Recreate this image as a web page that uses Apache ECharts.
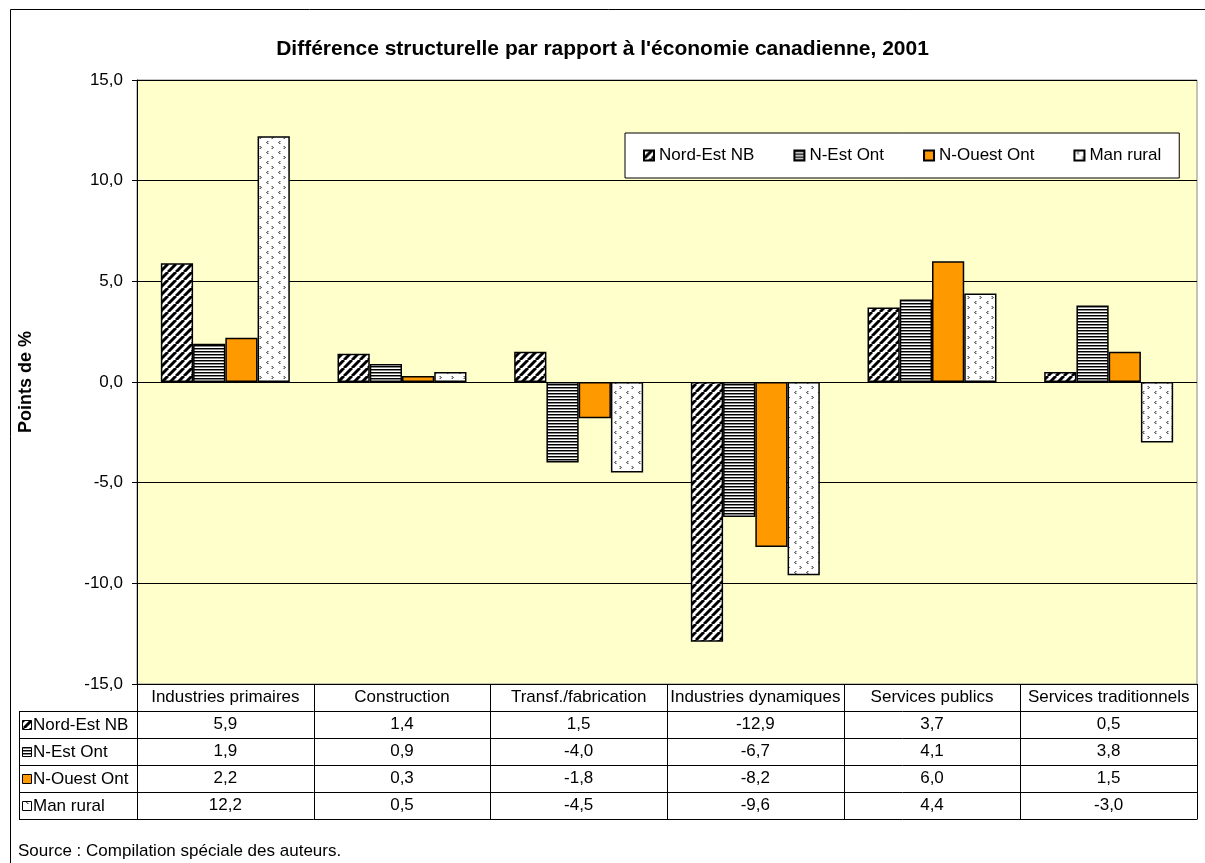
<!DOCTYPE html>
<html><head><meta charset="utf-8">
<script src="https://cdn.jsdelivr.net/npm/echarts@6/dist/echarts.min.js"></script>
<style>html,body{margin:0;padding:0;background:#fff}#c{width:1205px;height:863px}</style>
</head><body><div id="c"></div>
<script>
// ---- data ----
const categories = ['Industries primaires', 'Construction', 'Transf./fabrication', 'Industries dynamiques', 'Services publics', 'Services traditionnels'];
const seriesNames = ['Nord-Est NB', 'N-Est Ont', 'N-Ouest Ont', 'Man rural'];
const nordEstNB = [5.9, 1.4, 1.5, -12.9, 3.7, 0.5];
const nEstOnt = [1.9, 0.9, -4.0, -6.7, 4.1, 3.8];
const nOuestOnt = [2.2, 0.3, -1.8, -8.2, 6.0, 1.5];
const manRural = [12.2, 0.5, -4.5, -9.6, 4.4, -3.0];
const yMin = -15, yMax = 15, yStep = 5;
const titleText = "Différence structurelle par rapport à l'économie canadienne, 2001";
const yName = 'Points de %';
const sourceText = 'Source : Compilation spéciale des auteurs.';

const allValues = [nordEstNB, nEstOnt, nOuestOnt, manRural];
const FONT = '"Liberation Sans", Arial, sans-serif';
const fmt = v => v.toFixed(1).replace('.', ',');

// ---- patterns ----
function tile(w, h, draw) {
  const c = document.createElement('canvas'); c.width = w; c.height = h;
  const g = c.getContext('2d'); g.fillStyle = '#fff'; g.fillRect(0, 0, w, h); draw(g); return c;
}
const diagTile = tile(8, 8, g => {
  g.strokeStyle = '#000'; g.lineWidth = 3;
  for (let x0 = -8; x0 <= 8; x0 += 8) { g.beginPath(); g.moveTo(x0, 8); g.lineTo(x0 + 8, 0); g.stroke(); }
});
const horizTile = tile(4, 3, g => {
  g.fillStyle = '#000'; g.fillRect(0, 0, 4, 1);
  g.fillStyle = '#888'; g.fillRect(0, 1, 4, 1);
});
const dotTile = tile(12, 10, g => {
  g.fillStyle = '#666';
  [[3,1],[2,2],[3,3],[8,6],[9,7],[8,8]].forEach(p => g.fillRect(p[0], p[1], 1, 1));
  g.fillStyle = '#aaa';
  [[4,1],[3,2],[4,3],[7,6],[8,7],[7,8]].forEach(p => g.fillRect(p[0], p[1], 1, 1));
});
const fills = [
  { image: diagTile, repeat: 'repeat' },
  { image: horizTile, repeat: 'repeat' },
  '#FF9900',
  { image: dotTile, repeat: 'repeat' }
];

const chart = echarts.init(document.getElementById('c'), null, { renderer: 'canvas' });
const option = {
  backgroundColor: '#fff',
  animation: false,
  title: {
    text: titleText, left: 'center', top: 34,
    textStyle: { fontFamily: FONT, fontSize: 21, fontWeight: 'bold', color: '#000' }
  },
  legend: {
    data: seriesNames, left: 625, top: 133, icon: 'rect',
    padding: [14, 18, 14, 18], itemGap: 39, itemWidth: 10, itemHeight: 10,
    backgroundColor: '#fff', borderColor: '#000', borderWidth: 1,
    textStyle: { fontFamily: FONT, fontSize: 17, color: '#000' }
  },
  grid: {
    left: 137, right: 8, top: 80, bottom: 179,
    show: true, backgroundColor: '#FFFFCC', borderColor: '#888', borderWidth: 1
  },
  xAxis: {
    type: 'category', data: categories,
    axisLine: { onZero: false, lineStyle: { color: '#000', width: 1 } },
    axisTick: { show: false },
    axisLabel: {
      interval: 0, margin: 0, hideOverlap: false,
      fontFamily: FONT, fontSize: 17, color: '#000', lineHeight: 27,
      formatter: (val, idx) => [val].concat(allValues.map(a => fmt(a[idx]))).join('\n')
    }
  },
  yAxis: {
    type: 'value', min: yMin, max: yMax, interval: yStep,
    name: yName, nameLocation: 'middle', nameRotate: 90, nameGap: 102,
    nameTextStyle: { fontFamily: FONT, fontSize: 18, fontWeight: 'bold', color: '#000' },
    axisLine: { show: true, lineStyle: { color: '#000', width: 1 } },
    axisTick: { show: true, length: 5, lineStyle: { color: '#000' } },
    axisLabel: { margin: 14, fontFamily: FONT, fontSize: 17, color: '#000', formatter: v => fmt(v) },
    splitLine: { show: true, lineStyle: { color: '#000', width: 1 } }
  },
  series: seriesNames.map((n, i) => ({
    name: n, type: 'bar', data: allValues[i],
    barGap: '0%', barCategoryGap: '27%',
    itemStyle: { color: fills[i], borderColor: '#000', borderWidth: 1.5 }
  }))
};
chart.setOption(option);

// ---- data table + frame ----
function buildGraphics() {
  const c0 = chart.convertToPixel({ xAxisIndex: 0 }, 0);
  const c1 = chart.convertToPixel({ xAxisIndex: 0 }, 1);
  const band = c1 - c0;
  const left = c0 - band / 2;
  const right = left + band * categories.length;
  const top = chart.convertToPixel({ yAxisIndex: 0 }, yMin);
  const rowH = 27;
  const headerBottom = top + rowH;
  const tableBottom = headerBottom + rowH * seriesNames.length;
  const labelLeft = 19;
  const els = [];
  const ln = (x1, y1, x2, y2) => els.push({ type: 'line', silent: true, z: 10,
    shape: { x1, y1, x2, y2 }, style: { stroke: '#000', lineWidth: 1 } });
  for (let r = 0; r <= seriesNames.length; r++) {
    const y = Math.round(headerBottom + r * rowH) + 0.5;
    ln(labelLeft, y, right, y);
  }
  for (let k = 0; k <= categories.length; k++) {
    const x = Math.round(left + k * band) + 0.5;
    ln(x, top, x, Math.round(tableBottom) + 0.5);
  }
  ln(labelLeft + 0.5, Math.round(headerBottom) + 0.5, labelLeft + 0.5, Math.round(tableBottom) + 0.5);
  seriesNames.forEach((n, i) => {
    const cy = headerBottom + rowH * i + rowH / 2;
    els.push({ type: 'rect', silent: true, z: 11,
      shape: { x: 22.5, y: Math.round(cy - 4) - 0.5, width: 9, height: 9 },
      style: { fill: fills[i], stroke: '#000', lineWidth: 1 } });
    els.push({ type: 'text', silent: true, z: 11,
      style: { text: n, x: 33, y: cy + 1, font: '17px ' + FONT, fill: '#000',
        textAlign: 'left', textVerticalAlign: 'middle', align: 'left', verticalAlign: 'middle' } });
  });
  els.push({ type: 'text', silent: true, z: 11,
    style: { text: sourceText, x: 18, y: 851, font: '17px ' + FONT, fill: '#000',
      textAlign: 'left', textVerticalAlign: 'middle', align: 'left', verticalAlign: 'middle' } });
  els.push({ type: 'rect', silent: true, z: -1,
    shape: { x: 10.5, y: 9.5, width: 1400, height: 1000 },
    style: { fill: null, stroke: '#000', lineWidth: 1 } });
  chart.setOption({ graphic: els });
}
buildGraphics();
</script>
</body></html>
